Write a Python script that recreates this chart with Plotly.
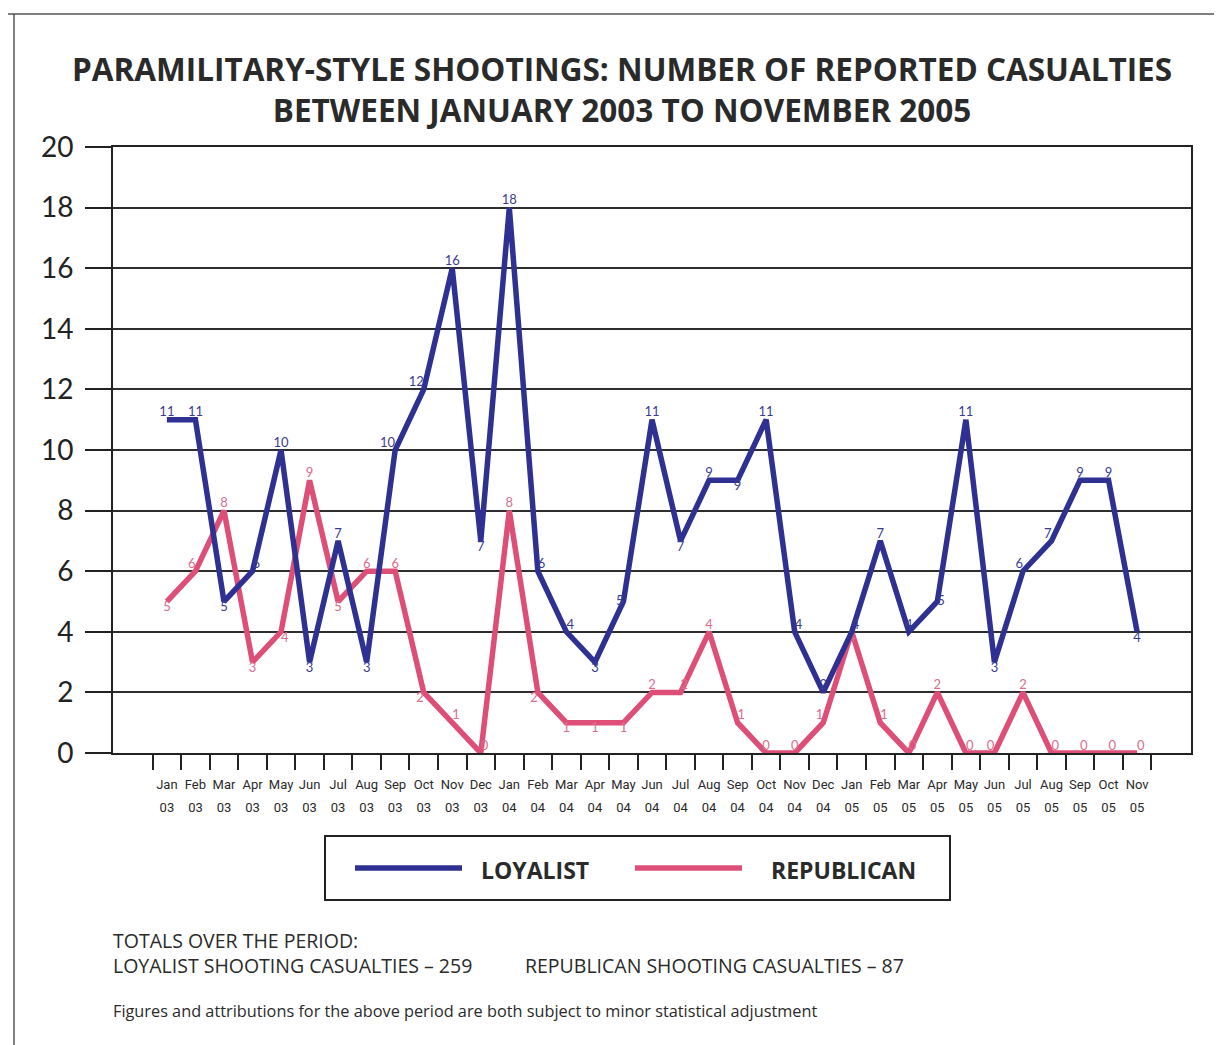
import plotly.graph_objects as go

months = ["Jan", "Feb", "Mar", "Apr", "May", "Jun", "Jul", "Aug", "Sep", "Oct", "Nov", "Dec"]
years = ["03", "04", "05"]
categories = [f"{m} {y}" for y in years for m in months][:35]  # Jan 03 .. Nov 05

loyalist = [11, 11, 5, 6, 10, 3, 7, 3, 10, 12, 16, 7,
            18, 6, 4, 3, 5, 11, 7, 9, 9, 11, 4, 2,
            4, 7, 4, 5, 11, 3, 6, 7, 9, 9, 4]
republican = [5, 6, 8, 3, 4, 9, 5, 6, 6, 2, 1, 0,
              8, 2, 1, 1, 1, 2, 2, 4, 1, 0, 0, 1,
              4, 1, 0, 2, 0, 0, 2, 0, 0, 0, 0]

loy_pos = ["top center", "top center", "bottom center", "top right", "top center", "bottom center",
           "top center", "bottom center", "top left", "top left", "top center", "bottom center",
           "top center", "top right", "top right", "bottom center", "middle left", "top center",
           "bottom center", "top center", "bottom center", "top center", "top right", "top center",
           "top right", "top center", "top center", "middle right", "top center", "bottom center",
           "top left", "top left", "top center", "top center", "bottom center"]
rep_pos = ["bottom center", "top left", "top center", "bottom center", "bottom right", "top center",
           "bottom center", "top center", "top center", "bottom left", "top right", "top right",
           "top center", "bottom left", "bottom center", "bottom center", "bottom center", "top center",
           "top right", "top center", "top right", "top center", "top center", "top left",
           "bottom center", "top right", "top right", "top center", "top right", "top left",
           "top center", "top right", "top right", "top right", "top right"]

tick_text = [
    f"<span style='font-size:13px'>{c.split()[0]}</span><br>\u00a0<br><span style='font-size:13px'>{c.split()[1]}</span>"
    for c in categories
]

BLUE = "#2f3192"
PINK = "#de4f78"
BLUE_TXT = "#3a3c94"
PINK_TXT = "#dc6c8c"
INK = "#2a2a2a"

# page offset (browser body margin)
OFF = 8
W, H = 1222 - OFF, 1045 - OFF
# plot area in reference-pixel coordinates
PL, PR, PT, PB = 113, 1191, 147, 753
L, R, T, B = PL - OFF, W - (PR - OFF), PT - OFF, H - (PB - OFF)
PW, PH = PR - PL, PB - PT


def px(x):
    return (x - PL) / PW


def py(y):
    return (PB - y) / PH


fig = go.Figure()
fig.add_trace(go.Scatter(
    x=categories, y=republican, mode="lines+text", name="REPUBLICAN",
    line=dict(color=PINK, width=5.5), text=[str(v) for v in republican],
    textposition=rep_pos, textfont=dict(family="Lato", size=13, color=PINK_TXT),
    cliponaxis=False, showlegend=False))
fig.add_trace(go.Scatter(
    x=categories, y=loyalist, mode="lines+text", name="LOYALIST",
    line=dict(color=BLUE, width=5.5), text=[str(v) for v in loyalist],
    textposition=loy_pos, textfont=dict(family="Lato", size=13, color=BLUE_TXT),
    cliponaxis=False, showlegend=False))

shapes = [
    # outer page frame
    dict(type="line", xref="paper", yref="paper", x0=px(14), x1=px(14), y0=py(14), y1=py(1060),
         line=dict(color="#555", width=1.5)),
    dict(type="line", xref="paper", yref="paper", x0=px(0), x1=px(1240), y0=py(14), y1=py(14),
         line=dict(color="#555", width=1.5)),
    # legend box
    dict(type="rect", xref="paper", yref="paper", x0=px(325), x1=px(950), y0=py(836), y1=py(900),
         line=dict(color="#222", width=2), fillcolor="white"),
    dict(type="line", xref="paper", yref="paper", x0=px(355), x1=px(462), y0=py(868), y1=py(868),
         line=dict(color=BLUE, width=5.5)),
    dict(type="line", xref="paper", yref="paper", x0=px(635), x1=px(742), y0=py(868), y1=py(868),
         line=dict(color=PINK, width=5.5)),
]


def ann(text, x, y, size, bold=False, xanchor="left"):
    f = dict(family="Open Sans", size=size, color=INK)
    if bold:
        f["weight"] = "bold"
    return dict(text=text, xref="paper", yref="paper", x=px(x), y=py(y), xanchor=xanchor,
                yanchor="middle", showarrow=False, font=f)


annotations = [
    ann("PARAMILITARY-STYLE SHOOTINGS: NUMBER OF REPORTED CASUALTIES<br>"
        "BETWEEN JANUARY 2003 TO NOVEMBER 2005", 622, 89, 31.5, True, "center"),
    ann("LOYALIST", 479, 870, 23, True),
    ann("REPUBLICAN", 769, 870, 23, True),
    ann("TOTALS OVER THE PERIOD:", 111, 940, 19.5),
    ann("LOYALIST SHOOTING CASUALTIES – 259", 111, 966, 19.5),
    ann("REPUBLICAN SHOOTING CASUALTIES – 87", 523, 966, 19.5),
    ann("Figures and attributions for the above period are both subject to minor statistical adjustment",
        111, 1011, 16.3),
]

fig.update_layout(
    width=W, height=H,
    margin=dict(l=L, r=R, t=T, b=B),
    paper_bgcolor="white", plot_bgcolor="white",
    shapes=shapes, annotations=annotations,
    showlegend=False,
)
fig.update_xaxes(
    type="category", categoryorder="array", categoryarray=categories,
    tickvals=categories, ticktext=tick_text,
    tickson="boundaries", ticks="outside", ticklen=15, tickwidth=1.6, tickcolor="#222",
    showline=True, linecolor="#222", linewidth=1.6, mirror=True,
    showgrid=False, tickangle=0, ticklabelstandoff=23,
    tickfont=dict(family="Roboto", size=9, color="#2a2a2a"),
)
fig.update_yaxes(
    range=[0, 20], tickvals=list(range(0, 21, 2)), ticks="outside", ticklen=26, tickwidth=1.6,
    tickcolor="#222", showline=True, linecolor="#222", linewidth=1.6, mirror=True,
    showgrid=True, gridcolor="#2e2e2e", gridwidth=1.6, zeroline=False,
    tickfont=dict(family="Lato", size=28, color="#222"), ticklabelstandoff=6,
)

fig.write_html("out.html")
